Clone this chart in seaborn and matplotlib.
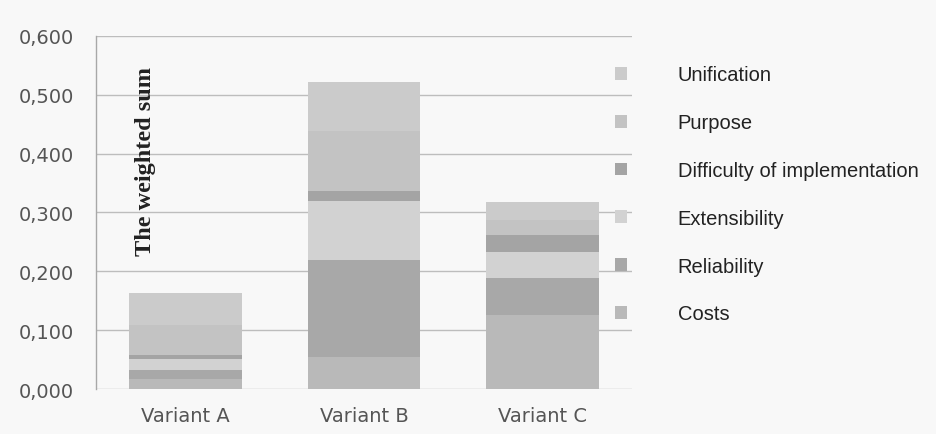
import numpy as np
import pandas as pd
import matplotlib
matplotlib.use("Agg")
import matplotlib.pyplot as plt
from matplotlib.patches import Patch
from matplotlib.ticker import FuncFormatter, MultipleLocator
import seaborn as sns

# Weighted-sum contributions of each criterion per variant
variants = ["Variant A", "Variant B", "Variant C"]
criteria = ["Costs", "Reliability", "Extensibility",
            "Difficulty of implementation", "Purpose", "Unification"]
costs = [0.017, 0.054, 0.126]
reliability = [0.016, 0.165, 0.062]
extensibility = [0.018, 0.100, 0.045]
difficulty = [0.007, 0.017, 0.028]
purpose = [0.050, 0.102, 0.026]
unification = [0.055, 0.083, 0.030]

layers = [costs, reliability, extensibility, difficulty, purpose, unification]
colors = ["#b9b9b9", "#a8a8a8", "#d2d2d2", "#a4a4a4", "#c3c3c3", "#cbcbcb"]

sns.set_theme(style="white")
bg = "#f8f8f8"
fig = plt.figure(figsize=(9.36, 4.35), dpi=100, facecolor=bg)
ax = fig.add_axes([0.1026, 0.1034, 0.5726, 0.8116], facecolor=bg)

# Stack: draw cumulative totals from the top layer down so lower layers overlay
cum = np.cumsum(np.array(layers), axis=0)
for i in range(len(layers) - 1, -1, -1):
    df = pd.DataFrame({"variant": variants, "value": cum[i]})
    sns.barplot(data=df, x="variant", y="value", order=variants,
                color=colors[i], saturation=1, width=0.63,
                linewidth=0, ax=ax, zorder=2)

ax.set_ylim(0, 0.6)
ax.set_xlim(-0.5, 2.5)
ax.yaxis.set_major_locator(MultipleLocator(0.1))
ax.yaxis.set_major_formatter(FuncFormatter(lambda v, p: f"{v:.3f}".replace(".", ",")))
ax.grid(axis="y", color="#bdbdbd", linewidth=1.0, zorder=0)
ax.set_axisbelow(True)
ax.set_xlabel("")
ax.set_ylabel("")
for s in ["top", "right", "bottom"]:
    ax.spines[s].set_visible(False)
ax.spines["left"].set_color("#a8a8a8")
ax.spines["left"].set_linewidth(1.0)
ax.tick_params(axis="y", length=0, pad=16, labelsize=14, labelcolor="#555555")
ax.tick_params(axis="x", length=0, pad=12, labelsize=14, labelcolor="#555555")
for lab in ax.get_yticklabels() + ax.get_xticklabels():
    lab.set_fontfamily("DejaVu Sans")

ax.text(0.093, 0.646, "The weighted sum", transform=ax.transAxes, rotation=90,
        ha="center", va="center", fontsize=17.5, fontweight="bold",
        fontfamily="Liberation Serif", color="#222222")

handles = [Patch(facecolor=colors[i], edgecolor="none", label=criteria[i])
           for i in range(len(criteria) - 1, -1, -1)]
fig.legend(handles=handles, loc="upper left", bbox_to_anchor=(0.638, 0.889),
           frameon=False, handlelength=0.6, handleheight=0.6,
           handletextpad=2.5, labelspacing=1.43,
           prop={"family": "Liberation Sans", "size": 14.5},
           labelcolor="#222222")

fig.savefig("out.png", dpi=100, facecolor=bg)
